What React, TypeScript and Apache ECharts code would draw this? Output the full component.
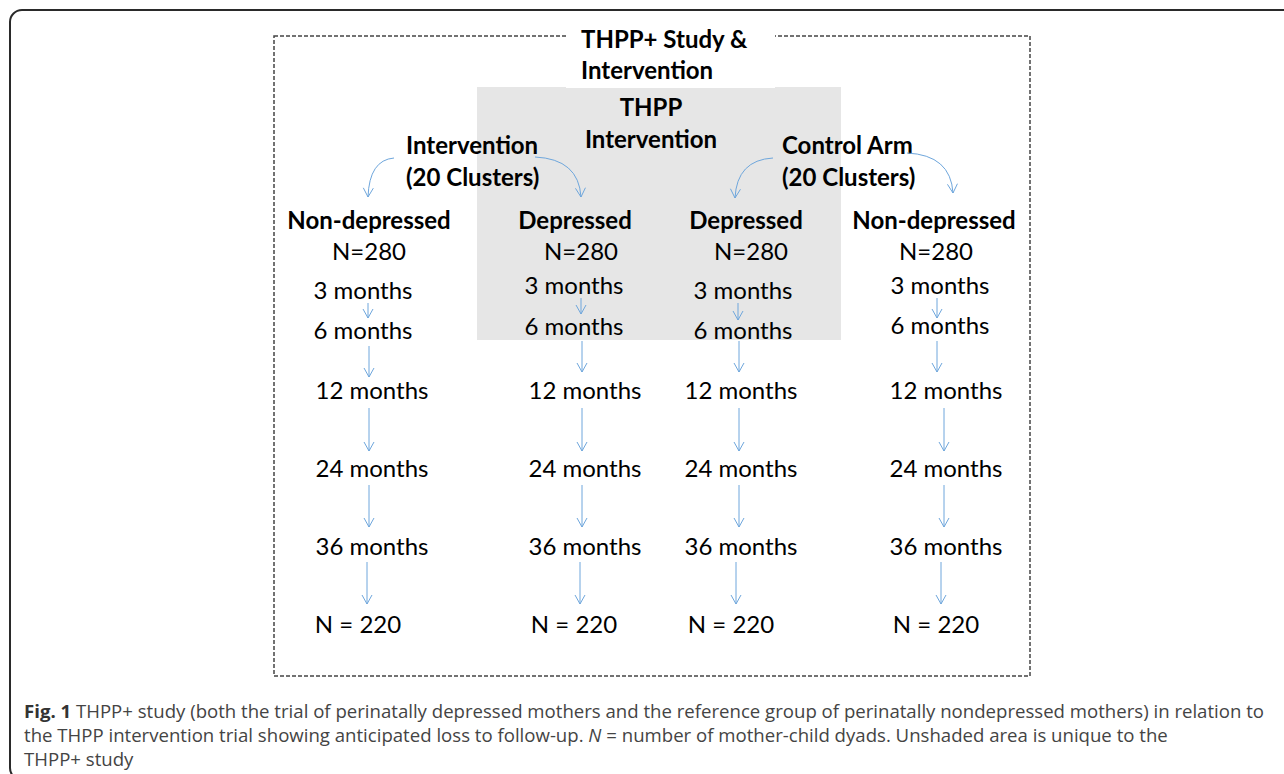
import React, { useEffect, useRef } from "react";
import * as echarts from "echarts";

// ---------- content ----------
const TITLE_LINES = ["THPP+ Study &", "Intervention"];
const SHADED_TITLE_LINES = ["THPP", "Intervention"];
const ARM_LABELS = [
  ["Intervention", "(20 Clusters)"],
  ["Control Arm", "(20 Clusters)"],
];
const GROUPS = ["Non-depressed", "Depressed", "Depressed", "Non-depressed"];
const BASELINE_N = [280, 280, 280, 280];
const FOLLOW_UPS = ["3 months", "6 months", "12 months", "24 months", "36 months"];
const FINAL_N = [220, 220, 220, 220];
const CAPTION_LINES = [
  "{b|Fig. 1} THPP+ study (both the trial of perinatally depressed mothers and the reference group of perinatally nondepressed mothers) in relation to",
  "the THPP intervention trial showing anticipated loss to follow-up. {i|N} = number of mother-child dyads. Unshaded area is unique to the",
  "THPP+ study",
];

// ---------- layout (positions / sizes) ----------
const FONT = "Lato";
const FS = 24;
const BLUE = "#6ea6dc";
const HEADER_X = [369, 575, 746, 934];
const HEADER_Y = 219;
const BASE_X = [369, 581, 751, 936];
const BASE_Y = 250;
const ROW_X = [
  [363, 574, 743, 940],
  [363, 574, 743, 940],
  [372, 585, 741, 946],
  [372, 585, 741, 946],
  [372, 585, 741, 946],
];
const ROW_Y = [
  [289, 284, 289, 284],
  [329, 325, 329, 324],
  [389, 389, 389, 389],
  [467, 467, 467, 467],
  [545, 545, 545, 545],
];
const FINAL_X = [358, 574, 731, 936];
const FINAL_Y = 623;
const ARROWS = [
  { x: [368, 581, 738, 937], y1: [303, 298, 303, 298], y2: [318, 314, 320, 318] },
  { x: [369, 582, 739, 937], y1: [346, 341, 341, 341], y2: [377, 372, 372, 372] },
  { x: [369, 582, 739, 944], y1: [408, 408, 408, 408], y2: [451, 451, 451, 451] },
  { x: [369, 582, 739, 944], y1: [485, 485, 485, 485], y2: [527, 527, 527, 527] },
  { x: [367, 580, 736, 941], y1: [562, 562, 562, 562], y2: [604, 604, 604, 604] },
];
const CURVES = [
  { x1: 394, y1: 158, x2: 368, y2: 197 },
  { x1: 535, y1: 157, x2: 581, y2: 197 },
  { x1: 773, y1: 158, x2: 735, y2: 198 },
  { x1: 907, y1: 153, x2: 953, y2: 193 },
];

function arrowHead(x: number, y: number, dx: number, dy: number): any {
  const len = Math.hypot(dx, dy) || 1;
  const ux = dx / len, uy = dy / len;
  const s = 9, w = 5;
  return {
    type: "polyline",
    shape: {
      points: [
        [x - ux * s - uy * w, y - uy * s + ux * w],
        [x, y],
        [x - ux * s + uy * w, y - uy * s - ux * w],
      ],
    },
    style: { stroke: BLUE, lineWidth: 1, fill: null },
    silent: true,
  };
}

function txt(text: string, x: number, y: number, bold: boolean, align = "center"): any {
  return {
    type: "text",
    x,
    y,
    style: {
      text,
      fontFamily: FONT,
      fontSize: FS,
      fontWeight: bold ? "bold" : "normal",
      fill: "#000",
      align,
      verticalAlign: "middle",
    },
    silent: true,
  };
}

export default function App() {
  const ref = useRef<HTMLDivElement>(null);
  useEffect(() => {
    if (!ref.current) return;
    const chart = echarts.init(ref.current, null, { renderer: "svg" });
    const els: any[] = [];

    // outer frame
    els.push({
      type: "rect",
      shape: { x: 10, y: 10, width: 1300, height: 770, r: 12 },
      style: { fill: "#fff", stroke: "#2a2a2a", lineWidth: 2 },
      silent: true,
    });
    // dashed study box
    els.push({
      type: "rect",
      shape: { x: 274, y: 36, width: 756, height: 640 },
      style: { fill: null, stroke: "#444", lineWidth: 1.5, lineDash: [4, 2] },
      silent: true,
    });
    // shaded THPP area
    els.push({
      type: "rect",
      shape: { x: 477, y: 87, width: 364, height: 253 },
      style: { fill: "#e6e6e6" },
      silent: true,
    });
    // white title box
    els.push({
      type: "rect",
      shape: { x: 566, y: 24, width: 209, height: 64 },
      style: { fill: "#fff" },
      silent: true,
    });

    els.push(txt(TITLE_LINES[0], 581, 38, true, "left"));
    els.push(txt(TITLE_LINES[1], 581, 69, true, "left"));
    els.push(txt(SHADED_TITLE_LINES[0], 651, 106, true));
    els.push(txt(SHADED_TITLE_LINES[1], 651, 138, true));
    els.push(txt(ARM_LABELS[0][0], 406, 144, true, "left"));
    els.push(txt(ARM_LABELS[0][1], 406, 176, true, "left"));
    els.push(txt(ARM_LABELS[1][0], 782, 144, true, "left"));
    els.push(txt(ARM_LABELS[1][1], 782, 176, true, "left"));

    GROUPS.forEach((g, c) => {
      els.push(txt(g, HEADER_X[c], HEADER_Y, true));
      els.push(txt(`N=${BASELINE_N[c]}`, BASE_X[c], BASE_Y, false));
      FOLLOW_UPS.forEach((f, r) => {
        els.push(txt(f, ROW_X[r][c], ROW_Y[r][c], false));
      });
      els.push(txt(`N = ${FINAL_N[c]}`, FINAL_X[c], FINAL_Y, false));
      ARROWS.forEach((a) => {
        els.push({
          type: "line",
          shape: { x1: a.x[c], y1: a.y1[c], x2: a.x[c], y2: a.y2[c] },
          style: { stroke: BLUE, lineWidth: 1 },
          silent: true,
        });
        els.push(arrowHead(a.x[c], a.y2[c], 0, 1));
      });
    });

    CURVES.forEach((cv) => {
      const cpx = cv.x2 + (cv.x1 - cv.x2) * 0.05;
      const cpy = cv.y1 + 2;
      els.push({
        type: "bezierCurve",
        shape: { x1: cv.x1, y1: cv.y1, x2: cv.x2, y2: cv.y2, cpx1: cpx, cpy1: cpy },
        style: { stroke: BLUE, lineWidth: 1, fill: null },
        silent: true,
      });
      els.push(arrowHead(cv.x2, cv.y2, cv.x2 - cpx, cv.y2 - cpy));
    });

    // caption
    const CFS = 18.6;
    CAPTION_LINES.forEach((line, i) => {
      els.push({
        type: "text",
        x: 24,
        y: 710 + i * 24,
        style: {
          text: line,
          fontFamily: "Open Sans",
          fontSize: CFS,
          fill: "#444",
          verticalAlign: "middle",
          rich: {
            b: { fontFamily: "Open Sans", fontSize: CFS, fontWeight: "bold", fill: "#333" },
            i: { fontFamily: "Open Sans", fontSize: CFS, fontStyle: "italic", fill: "#444" },
          },
        },
        silent: true,
      });
    });

    chart.setOption({ animation: false, graphic: { elements: els } });
    return () => chart.dispose();
  }, []);
  return (
    <div
      ref={ref}
      style={{ position: "fixed", left: 0, top: 0, width: 1284, height: 774, background: "#fff" }}
    />
  );
}
